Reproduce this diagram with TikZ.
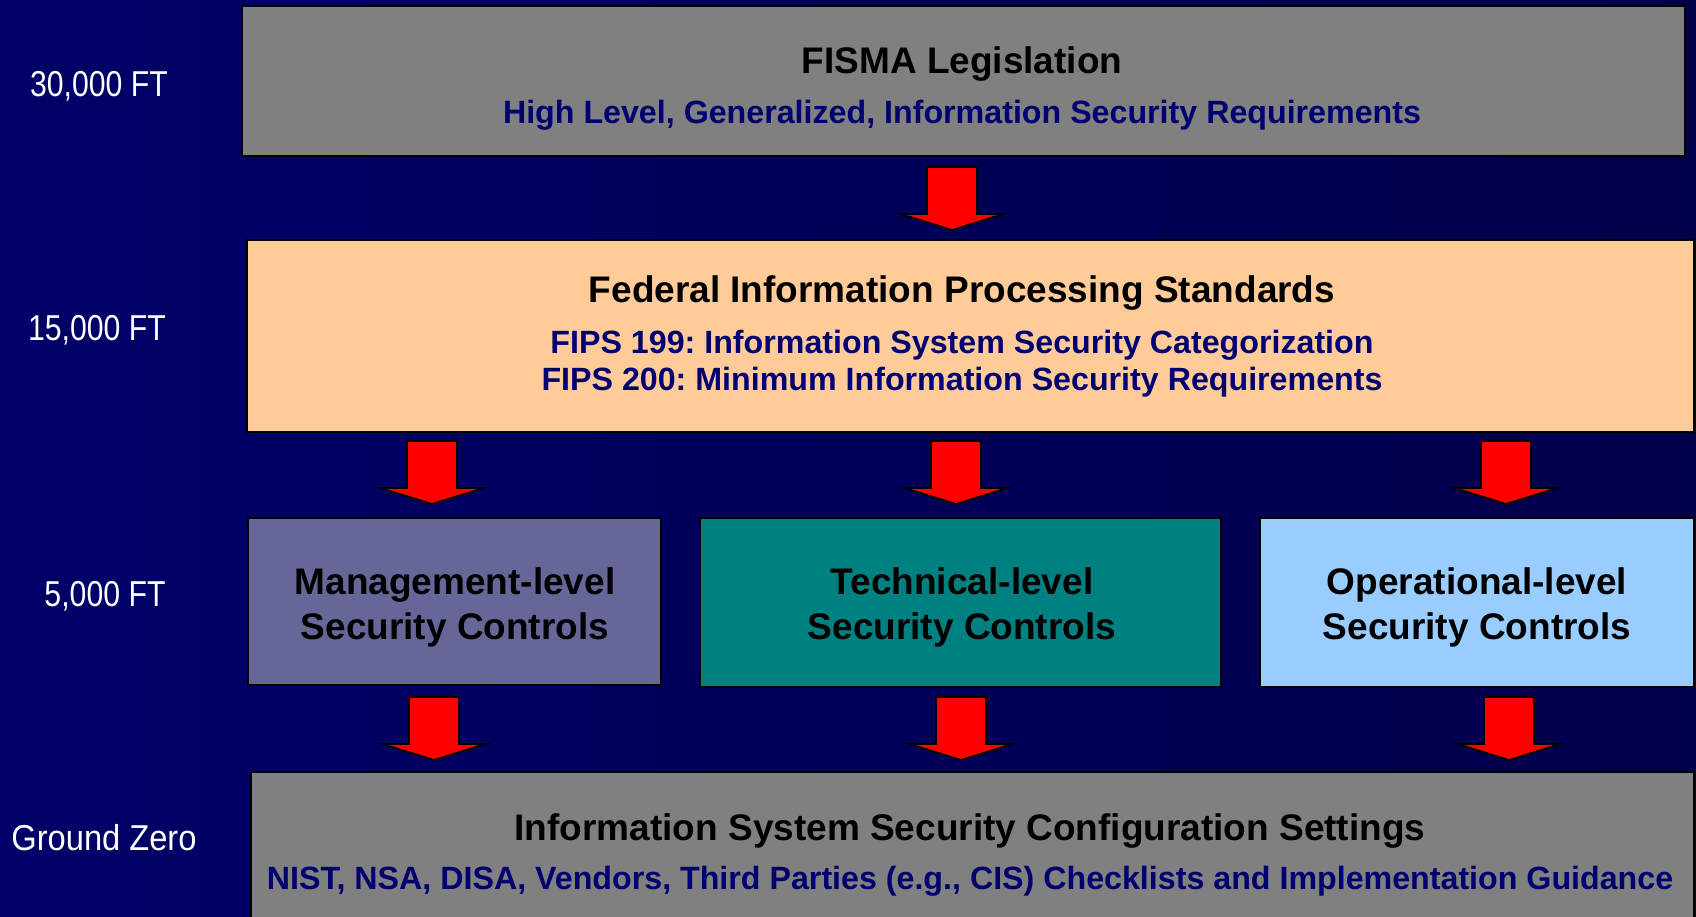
\documentclass[tikz,border=0pt]{standalone}
\usepackage{fontspec}
\setmainfont{Liberation Sans}
\newfontfamily\narrowfont[FakeStretch=0.84]{Liberation Sans}
\frenchspacing
\definecolor{bgL}{RGB}{0,0,104}
\definecolor{bgR}{RGB}{0,0,74}
\definecolor{boxgrey}{RGB}{128,128,128}
\definecolor{peach}{RGB}{255,204,153}
\definecolor{mgmt}{RGB}{102,102,153}
\definecolor{tech}{RGB}{0,128,128}
\definecolor{oper}{RGB}{153,204,255}
\definecolor{navytxt}{RGB}{0,0,112}
\tikzset{
  box/.style={draw=black, line width=2pt, rectangle, anchor=north west, inner sep=0pt},
  ttl/.style={anchor=base, inner sep=0pt, font=\fontsize{37}{44}\selectfont\bfseries, text=black},
  sub/.style={anchor=base, inner sep=0pt, font=\fontsize{32.2}{38}\selectfont\bfseries, text=navytxt},
  alt/.style={anchor=base, inner sep=0pt, font=\narrowfont\fontsize{36}{42}\selectfont, text=white},
  downarr/.pic={\draw[fill=red, draw=black, line width=1.8pt, line join=miter]
     (-25,0) -- (25,0) -- (25,47) -- (51.5,47) -- (0,63) -- (-51.5,47) -- (-25,47) -- cycle;}
}
\begin{document}
\begin{tikzpicture}[x=1pt,y=-1pt]
\useasboundingbox (0,0) rectangle (1696,917);
\clip (0,0) rectangle (1696,917);
\shade[left color=bgL, right color=bgR] (0,0) rectangle (1696,917);

% boxes
\node[box, fill=boxgrey, minimum width=1443pt, minimum height=150.5pt] (fisma) at (241,5) {};
\node[box, fill=peach, minimum width=1447pt, minimum height=191.5pt] (fips) at (245.5,239) {};
\node[box, fill=mgmt, minimum width=413pt, minimum height=166.5pt] (mgmt) at (246.6,517) {};
\node[box, fill=tech, minimum width=521pt, minimum height=168.5pt] (tech) at (698.7,517) {};
\node[box, fill=oper, minimum width=433.5pt, minimum height=168.5pt] (oper) at (1259,517) {};
\node[box, fill=boxgrey, minimum width=1443pt, minimum height=170pt] (ground) at (250,771) {};

% texts
\node[ttl] (fismaT) at (962,74) {FISMA Legislation};
\node[sub] (fismaS) at (962,124) {High Level, Generalized, Information Security Requirements};
\node[ttl] (fipsT) at (962,302.7) {Federal Information Processing Standards};
\node[sub] (fipsA) at (962,353) {FIPS 199: Information System Security Categorization};
\node[sub] (fipsB) at (962,390.5) {FIPS 200: Minimum Information Security Requirements};
\node[ttl] (mgmtA) at (455,594) {Management-level};
\node[ttl] (mgmtB) at (455,639.5) {Security Controls};
\node[ttl] (techA) at (962,594) {Technical-level};
\node[ttl] (techB) at (962,639.5) {Security Controls};
\node[ttl] (operA) at (1477,594) {Operational-level};
\node[ttl] (operB) at (1477,639.5) {Security Controls};
\node[ttl] (groundT) at (970,840.3) {Information System Security Configuration Settings};
\node[sub] (groundS) at (970,889.3) {NIST, NSA, DISA, Vendors, Third Parties (e.g., CIS) Checklists and Implementation Guidance};

% altitude labels
\node[alt] (l30) at (99,96.7) {30,000 FT};
\node[alt] (l15) at (97,340) {15,000 FT};
\node[alt] (l5) at (105,606.7) {5,000 FT};
\node[alt] (l0) at (104,850) {\scalebox{1.08}[1]{Ground Zero}};

% block arrows
\coordinate (a1) at (952,167);
\coordinate (a2) at (432,441);
\coordinate (a3) at (956,441);
\coordinate (a4) at (1506,441);
\coordinate (a5) at (434,697);
\coordinate (a6) at (961,697);
\coordinate (a7) at (1509,697);
\foreach \c in {a1,a2,a3,a4,a5,a6,a7} { \pic at (\c) {downarr}; }
\end{tikzpicture}
\end{document}
